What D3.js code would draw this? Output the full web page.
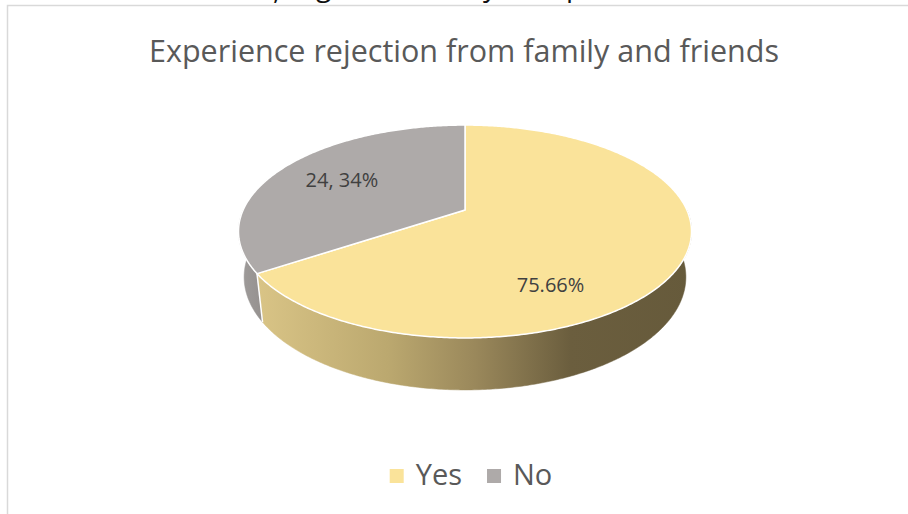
<!DOCTYPE html>
<html>
<head>
<meta charset="utf-8">
<script src="https://cdn.jsdelivr.net/npm/d3@7"></script>
<style>
    body { margin: 0; background: #fff; }
    svg { display: block; }
</style>
</head>
<body>
<div id="chart"></div>
<script>
// data
var categories = ["Yes", "No"];
var values = [65.66, 34.34];
var labelTexts = ["75.66%", "24, 34%"];
var topColors = ["#fae39a", "#aeaaa9"];
var chartTitle = "Experience rejection from family and friends";
// bits of the caption line above the frame, only descenders are visible
var topFragments = [",", "g", "y", "p"];

var width = 908, height = 514;

var svg = d3.select("#chart")
    .append("svg")
    .attr("width", width)
    .attr("height", height);

var defs = svg.append("defs");

// frame
svg.append("rect")
    .attr("x", 7.5)
    .attr("y", 5.5)
    .attr("width", width + 20)
    .attr("height", height + 20)
    .attr("fill", "none")
    .attr("stroke", "#d9d9d9")
    .attr("stroke-width", 1.5);

svg.selectAll("text.frag")
    .data(topFragments)
    .enter()
    .append("text")
    .attr("class", "frag")
    .attr("x", function (d, i) { return [273, 316, 483, 566][i]; })
    .attr("y", function (d, i) { return [-1, -4, -4, -4][i]; })
    .style("font-family", "'Open Sans', sans-serif")
    .style("font-size", "28px")
    .attr("fill", "#111")
    .text(function (d) { return d; });

// title, sized to the reference width
var title = svg.append("text")
    .attr("x", 464)
    .attr("y", 62)
    .attr("text-anchor", "middle")
    .style("font-family", "'Open Sans', sans-serif")
    .style("font-size", "27px")
    .attr("fill", "#595959")
    .text(chartTitle);
var tw = title.node().getComputedTextLength();
title.style("font-size", (27 * 630 / tw) + "px");

// 3d projection of the pie (camera tilted, slight perspective)
var cx = 465, cy = 210;
var tilt = 27.4 * Math.PI / 180;
var cs = Math.cos(tilt), sn = Math.sin(tilt);
var dist = 4.396, focal = 975.2, depth = 0.233;

function project(theta, r, yy) {
    var x = r * Math.sin(theta), z = r * Math.cos(theta);
    var u = yy * cs + z * sn;
    var d = dist + z * cs - yy * sn;
    return [cx + focal * x / d, cy - focal * u / d];
}

function arcPoints(a0, a1, yy) {
    var n = Math.max(2, Math.ceil(Math.abs(a1 - a0) / 0.01));
    return d3.range(n + 1).map(function (i) {
        return project(a0 + (a1 - a0) * i / n, 1, yy);
    });
}

var pie = d3.pie().sort(null).value(function (d) { return d; });
var slices = pie(values);

// side gradients
var yesGrad = defs.append("linearGradient")
    .attr("id", "sideYes")
    .attr("gradientUnits", "userSpaceOnUse")
    .attr("x1", 258).attr("x2", 692).attr("y1", 0).attr("y2", 0);
[[0, "#d9c486"], [0.3, "#bba86f"], [0.5, "#9a885b"], [0.72, "#6b5e3e"], [1, "#665a3b"]]
    .forEach(function (s) {
        yesGrad.append("stop").attr("offset", s[0]).attr("stop-color", s[1]);
    });
var noGrad = defs.append("linearGradient")
    .attr("id", "sideNo")
    .attr("gradientUnits", "userSpaceOnUse")
    .attr("x1", 238).attr("x2", 262).attr("y1", 0).attr("y2", 0);
noGrad.append("stop").attr("offset", 0).attr("stop-color", "#a09d9c");
noGrad.append("stop").attr("offset", 1).attr("stop-color", "#95918f");
var sideFills = ["url(#sideYes)", "url(#sideNo)"];

var line = d3.line();

// front walls
var front0 = Math.PI / 2, front1 = 3 * Math.PI / 2;
slices.forEach(function (s, i) {
    var a0 = Math.max(s.startAngle, front0), a1 = Math.min(s.endAngle, front1);
    if (a1 <= a0) return;
    var pts = arcPoints(a0, a1, 0).concat(arcPoints(a1, a0, -depth));
    svg.append("path")
        .attr("d", line(pts) + "Z")
        .attr("fill", sideFills[i])
        .attr("stroke", sideFills[i])
        .attr("stroke-width", 0.5);
});

// white seam where the walls meet
slices.forEach(function (s) {
    var a = s.endAngle;
    if (a > front0 && a < front1) {
        svg.append("path")
            .attr("d", line([project(a, 1, 0), project(a, 1, -depth)]))
            .attr("stroke", "#fff")
            .attr("stroke-width", 1.5);
    }
});

// top faces
slices.forEach(function (s, i) {
    var pts = [project(0, 0, 0)].concat(arcPoints(s.startAngle, s.endAngle, 0));
    svg.append("path")
        .attr("d", line(pts) + "Z")
        .attr("fill", topColors[i])
        .attr("stroke", "#fff")
        .attr("stroke-width", 1.5)
        .attr("stroke-linejoin", "round");
});

// data labels
var labelShift = [34 * Math.PI / 180, 0];
var labelRadius = [0.72, 0.67];
slices.forEach(function (s, i) {
    var mid = (s.startAngle + s.endAngle) / 2 + labelShift[i];
    var p = project(mid, labelRadius[i], 0);
    svg.append("text")
        .attr("x", p[0])
        .attr("y", p[1])
        .attr("dy", "0.36em")
        .attr("text-anchor", "middle")
        .style("font-family", "'Open Sans', sans-serif")
        .style("font-size", "20px")
        .attr("fill", "#404040")
        .text(labelTexts[i]);
});

// legend
var legend = svg.append("g");
var lx = 0;
categories.forEach(function (c, i) {
    var item = legend.append("g").attr("transform", "translate(" + lx + ",0)");
    item.append("rect")
        .attr("x", 0).attr("y", -16)
        .attr("width", 14).attr("height", 14)
        .attr("fill", topColors[i]);
    var t = item.append("text")
        .attr("x", 26).attr("y", 0)
        .style("font-family", "'Open Sans', sans-serif")
        .style("font-size", "29px")
        .attr("fill", "#595959")
        .text(c);
    lx += 26 + t.node().getComputedTextLength() + 25;
});
var lw = lx - 25;
legend.attr("transform", "translate(" + (471 - lw / 2) + ",485)");
</script>
</body>
</html>
